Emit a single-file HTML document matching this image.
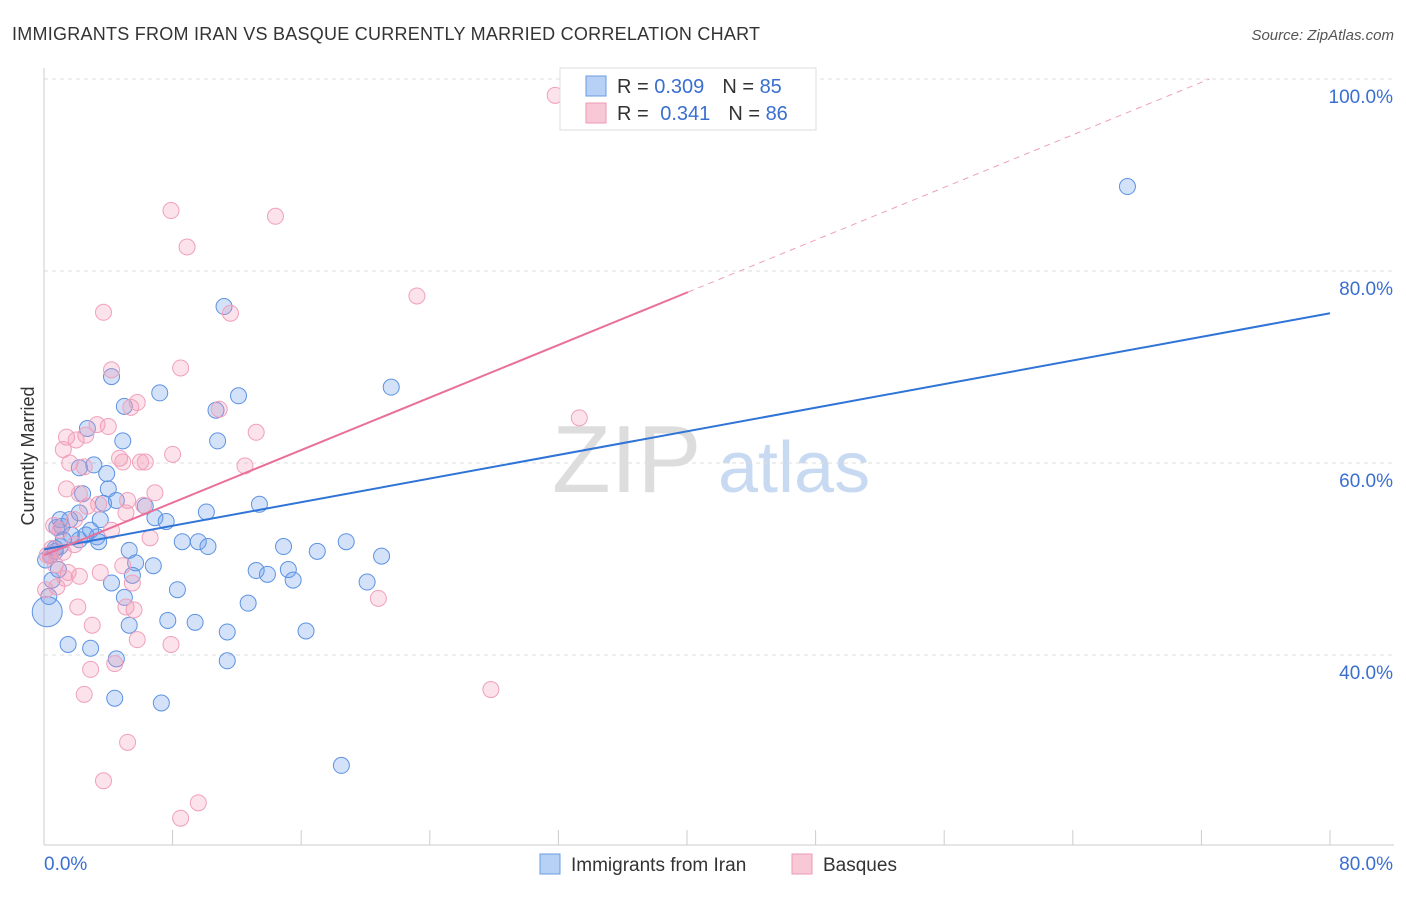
<!DOCTYPE html>
<html><head><meta charset="utf-8"><style>
body{margin:0;background:#fff;font-family:"Liberation Sans",sans-serif;}
svg text{font-family:"Liberation Sans",sans-serif;}
</style></head><body>
<svg id="chart" width="1406" height="892" xmlns="http://www.w3.org/2000/svg">
<text x="12" y="40" font-size="18" fill="#333" letter-spacing="0.25">IMMIGRANTS FROM IRAN VS BASQUE CURRENTLY MARRIED CORRELATION CHART</text>
<text x="1394" y="40" font-size="15" fill="#555" text-anchor="end" font-style="italic">Source: ZipAtlas.com</text>
<text x="34" y="456" font-size="18" fill="#333" text-anchor="middle" transform="rotate(-90 34 456)">Currently Married</text>
<g><text x="552" y="492" font-size="96" fill="#ddd" font-family="Liberation Serif">ZIP</text><text x="718" y="492" font-size="72" fill="#c8daf2">atlas</text></g>
<g id="grid"></g><g id="axes"></g><g id="marks"></g><g id="lines"></g>
<g>
<rect x="560" y="68" width="256" height="62" fill="#fff" stroke="#ddd"/>
<rect x="586" y="76" width="20" height="20" fill="#b7d0f5" stroke="#6a9be0"/>
<text x="617" y="93" font-size="20" fill="#333">R = <tspan fill="#3a6fd0">0.309</tspan><tspan dx="18">N = </tspan><tspan fill="#3a6fd0">85</tspan></text>
<rect x="586" y="103" width="20" height="20" fill="#f8c8d7" stroke="#ee9ab5"/>
<text x="617" y="120" font-size="20" fill="#333">R = <tspan dx="6" fill="#3a6fd0">0.341</tspan><tspan dx="18">N = </tspan><tspan fill="#3a6fd0">86</tspan></text>
</g>
<g>
<rect x="540" y="854" width="20" height="20" fill="#b7d0f5" stroke="#6a9be0"/>
<text x="571" y="871" font-size="19" fill="#333">Immigrants from Iran</text>
<rect x="792" y="854" width="20" height="20" fill="#f8c8d7" stroke="#ee9ab5"/>
<text x="823" y="871" font-size="19" fill="#333">Basques</text>
</g>
</svg>
<script>
const blueX=[67.4,11.2,4.2,12.1,7.2,21.6,5.0,10.7,4.9,10.8,2.7,3.1,2.2,3.9,4.0,2.4,4.5,3.7,6.3,13.4,10.1,6.9,7.6,1.1,0.8,1.6,2.2,2.9,3.3,3.4,2.2,1.0,0.7,0.4,5.3,8.6,9.6,10.2,14.9,17.0,18.8,21.0,5.7,6.8,13.2,13.9,15.2,15.5,20.1,4.2,5.5,8.3,0.5,0.3,5.0,12.7,7.7,9.4,5.3,11.4,16.3,1.5,2.9,4.5,11.4,4.4,7.3,18.5,0.2,0.7,1.7,2.6,1.0,3.5,1.2,0.1,0.9];
const blueY=[88.8,76.3,69.0,67.0,67.3,67.9,65.9,65.5,62.3,62.3,63.6,59.8,59.5,58.9,57.3,56.8,56.1,55.8,55.5,55.7,54.9,54.3,53.9,53.4,53.3,54.1,54.8,53.0,52.3,51.8,52.0,51.3,50.8,50.4,50.9,51.8,51.8,51.3,51.3,50.8,51.8,50.3,49.6,49.3,48.8,48.4,48.9,47.8,47.6,47.5,48.3,46.8,47.8,46.1,46.0,45.4,43.6,43.4,43.1,42.4,42.5,41.1,40.7,39.6,39.4,35.5,35.0,28.5,44.5,51.1,52.5,52.5,54.1,54.1,52.0,49.9,48.9];
const pinkX=[31.8,7.9,14.4,8.9,23.2,3.7,11.6,4.2,8.5,5.8,5.4,10.9,3.3,4.0,33.3,13.2,1.4,2.0,2.6,1.2,8.0,4.7,6.3,6.0,4.9,1.6,2.5,12.5,1.4,2.2,6.9,5.2,6.2,2.7,3.4,5.1,4.2,6.6,0.6,1.0,1.9,1.2,0.4,0.7,1.5,2.2,3.5,4.9,5.5,0.8,20.8,2.1,5.1,5.6,3.0,7.9,5.8,2.9,4.4,2.5,27.8,5.2,3.7,9.6,8.5,0.2,0.5,1.3,0.1,1.9];
const pinkY=[98.3,86.3,85.7,82.5,77.4,75.7,75.6,69.7,69.9,66.3,65.8,65.6,64.0,63.8,64.7,63.2,62.7,62.4,62.9,61.4,60.9,60.5,60.1,60.1,60.1,60.0,59.6,59.7,57.3,56.8,56.9,56.1,55.6,55.5,55.7,54.8,53.0,52.2,53.5,53.0,51.5,50.7,50.3,49.4,48.6,48.2,48.6,49.3,47.5,47.1,45.9,45.0,45.0,44.7,43.1,41.1,41.6,38.5,39.1,35.9,36.4,30.9,26.9,24.6,23.0,50.4,51.1,48.0,46.8,54.1];
const xTicks=[0,8,16,24,32,40,48,56,64,72,80];
const yGrid=[40,60,80,100];
const yLabels=["40.0%","60.0%","80.0%","100.0%"];
const blueTrend=[51.0,75.6];
const pinkTrend=[50.4,77.8,100];
const pinkTrendX=[0,40.06,72.5];
const NS="http://www.w3.org/2000/svg";
const sx=v=>44+v*16.075, sy=v=>655-(v-40)*9.6;
function mk(tag,attrs,parent){const e=document.createElementNS(NS,tag);for(const k in attrs)e.setAttribute(k,attrs[k]);document.getElementById(parent).appendChild(e);return e;}
yGrid.forEach((g,i)=>{
 const l=mk('line',{x1:44,x2:1394,y1:sy(g),y2:sy(g),stroke:'#ddd','stroke-dasharray':'4,4'},'grid');
 
 
 const t=mk('text',{x:1393,y:sy(g)+24,'font-size':19,fill:'#3a6fd0','text-anchor':'end'},'grid');t.textContent=yLabels[i];
 
 
});
const ax=mk('line',{x1:44,x2:1394,y1:845,y2:845,stroke:'#ccc'},'axes');


const ay=mk('line',{x1:44,x2:44,y1:68,y2:845,stroke:'#ccc'},'axes');


xTicks.forEach(t=>{
 const l=mk('line',{x1:sx(t),x2:sx(t),y1:830,y2:845,stroke:'#ccc'},'axes');
 
 
});
const xl0=mk('text',{x:44,y:870,'font-size':19,fill:'#3a6fd0'},'axes');xl0.textContent='0.0%';


const xl1=mk('text',{x:1393,y:870,'font-size':19,fill:'#3a6fd0','text-anchor':'end'},'axes');xl1.textContent='80.0%';


blueX.forEach((x,i)=>{
 const big=i===68;
 const c=mk('circle',{cx:sx(x),cy:sy(blueY[i]),r:big?15:8,fill:'rgba(110,160,235,0.3)',stroke:'#5d92e2','stroke-width':1},'marks');
 
 
});
pinkX.forEach((x,i)=>{
 const c=mk('circle',{cx:sx(x),cy:sy(pinkY[i]),r:8,fill:'rgba(245,150,180,0.28)',stroke:'#f0a0bb','stroke-width':1},'marks');
 
 
});
const bl=mk('line',{x1:sx(0),y1:sy(blueTrend[0]),x2:sx(80),y2:sy(blueTrend[1]),stroke:'#2f74d6','stroke-width':2},'lines');


const pl=mk('line',{x1:sx(pinkTrendX[0]),y1:sy(pinkTrend[0]),x2:sx(pinkTrendX[1]),y2:sy(pinkTrend[1]),stroke:'#e8709a','stroke-width':2},'lines');


const pd=mk('line',{x1:sx(pinkTrendX[1]),y1:sy(pinkTrend[1]),x2:sx(pinkTrendX[2]),y2:sy(pinkTrend[2]),stroke:'#eea0b8','stroke-width':1,'stroke-dasharray':'6,5'},'lines');


</script>
</body></html>
